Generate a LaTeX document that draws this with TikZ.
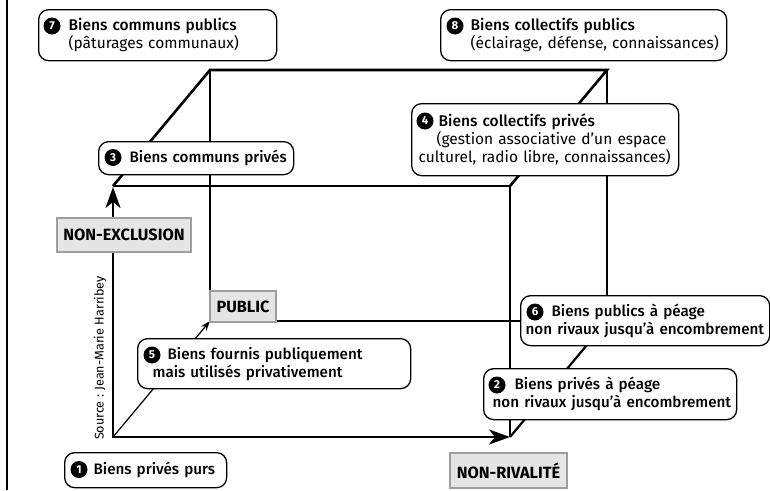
\documentclass[tikz,border=0pt]{standalone}
\usepackage{fontspec}
\setmainfont{Fira Sans}
\newfontfamily\medfont{Fira Sans Medium}
\usetikzlibrary{arrows.meta}
\begin{document}
\begin{tikzpicture}[x=1pt,y=-1pt,
  bubble/.style={draw=black, line width=1.3pt, rounded corners=10pt, fill=white, anchor=north west,
    inner xsep=0pt, inner ysep=0pt, align=left, font=\fontsize{15.5}{18}\selectfont},
  medbubble/.style={bubble, font=\medfont\fontsize{15.2}{18}\selectfont},
  numc/.style={circle, fill=black, text=white, inner sep=0pt, minimum size=17pt,
    font=\bfseries\fontsize{11.5}{11.5}\selectfont},
  graylab/.style={draw=black!38, fill=black!10, line width=2pt, anchor=north west, inner sep=0pt,
    font=\bfseries\fontsize{16.3}{16}\selectfont},
  front/.style={line width=2.6pt, line join=miter},
  back/.style={line width=1.2pt},
  bigtip/.style={-{Stealth[length=21pt,width=15pt,inset=6pt]}},
]
\useasboundingbox (0,0) rectangle (770,490);
% frame line
\coordinate (bt) at (7,0);
\coordinate (bb) at (7,490);
\draw[line width=1.2pt] (bt) -- (bb);
% cube corners
\coordinate (FBL) at (113,437);
\coordinate (FBR) at (510,437);
\coordinate (FTL) at (113,186);
\coordinate (FTR) at (510,186);
\coordinate (BBL) at (210,321);
\coordinate (BBR) at (607,321);
\coordinate (BTL) at (210,70);
\coordinate (BTR) at (607,70);
% hidden (thin) edges
\draw[back] (BTL) -- (BBL) -- (BBR) -- (BTR);
\draw[back, -{Stealth[length=10pt,width=7pt]}] (FBL) -- (BBL);
% outline
\draw[front] (FTL) -- (BTL) -- (BTR) -- (FTR);
\draw[line width=2.2pt] (FBR) -- (BBR);
\draw[front] (FTL) -- (FTR) -- (FBR);
\draw[front, bigtip] (FBL) -- ([yshift=-1pt]FTL);
\draw[front, bigtip] ([xshift=-1.3pt]FBL) -- (FBR);
% labels
\node[graylab, minimum width=66pt, minimum height=31pt] (pub) at (209,290) {PUBLIC};
\node[graylab, minimum width=134pt, minimum height=34pt] (nex) at (56,217) {NON-EXCLUSION};
\node[graylab, minimum width=117pt, minimum height=35pt] (nriv) at (449,452) {NON-RIVALITÉ};
\node[rotate=90, font=\fontsize{12.6}{12.6}\selectfont] (src) at (100,358) {Source : Jean-Marie Harribey};
% bubbles
\node[bubble, text width=238pt, minimum height=51pt] (b7) at (38,9)
  {\hspace*{30pt}{\medfont Biens communs publics}\\\hspace*{30pt}(pâturages communaux)};
\node[numc] (n7) at (52,26) {7};
\node[bubble, text width=286pt, minimum height=51pt] (b8) at (440,9)
  {\hspace*{30pt}{\medfont Biens collectifs publics}\\\hspace*{30pt}(éclairage, défense, connaissances)};
\node[numc] (n8) at (455,26) {8};
\node[medbubble, text width=195pt, minimum height=33pt] (b3) at (98,141)
  {\hspace*{31pt}Biens communs privés};
\node[numc] (n3) at (113,157.5) {3};
\node[bubble, text width=267pt, minimum height=72pt] (b4) at (411,103)
  {\hspace*{27pt}{\medfont Biens collectifs privés}\\\hspace*{25pt}(gestion associative d’un espace\\\hspace*{7pt}culturel, radio libre, connaissances)};
\node[numc] (n4) at (425,121) {4};
\node[medbubble, text width=273pt, minimum height=50pt] (b5) at (137,338)
  {\hspace*{30pt}Biens fournis publiquement\\\hspace*{15pt}mais utilisés privativement};
\node[numc] (n5) at (152,355) {5};
\node[medbubble, text width=249pt, minimum height=50pt] (b6) at (520,295)
  {\hspace*{31pt}Biens publics à péage\\\hspace*{5pt}\mbox{non rivaux jusqu’à encombrement}};
\node[numc] (n6) at (535,312) {6};
\node[medbubble, text width=253pt, minimum height=51pt] (b2) at (483,368)
  {\hspace*{31pt}Biens privés à péage\\\hspace*{9pt}\mbox{non rivaux jusqu’à encombrement}};
\node[numc] (n2) at (497,385) {2};
\node[medbubble, text width=162pt, minimum height=35pt] (b1) at (64,452)
  {\hspace*{29pt}Biens privés purs};
\node[numc] (n1) at (79,469.5) {1};
\end{tikzpicture}
\end{document}
